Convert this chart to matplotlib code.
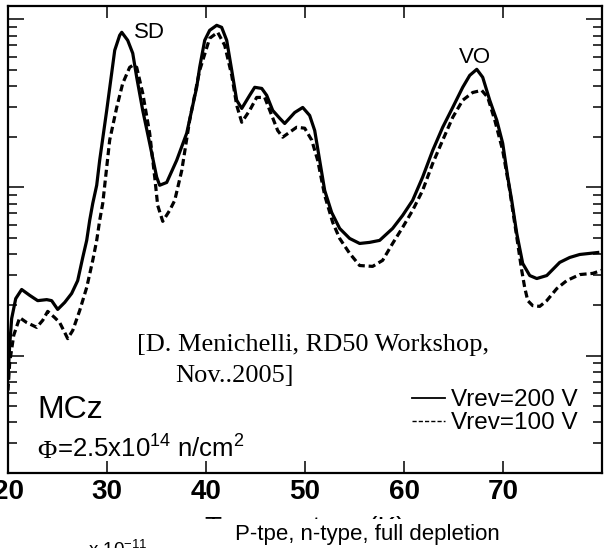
import matplotlib
matplotlib.use("Agg")
import matplotlib.pyplot as plt
from matplotlib.lines import Line2D
from matplotlib.patches import Rectangle

plt.rcParams['font.family'] = ['Liberation Sans', 'DejaVu Sans']
plt.rcParams['mathtext.fontset'] = 'custom'
plt.rcParams['mathtext.rm'] = 'Liberation Sans'
plt.rcParams['mathtext.it'] = 'Liberation Sans:italic'

# Vrev = 200 V (solid)
temp_200 = [20.0, 20.17, 20.37, 20.78, 21.38, 22.19, 23.0, 23.91, 24.41, 25.02,
            25.73, 26.43, 27.04, 27.55, 27.95, 28.25, 28.56, 28.96, 29.26, 29.97,
            30.47, 30.78, 31.28, 31.49, 32.09, 32.6, 33.0, 33.61, 34.31, 35.02,
            35.32, 36.03, 37.04, 38.05, 39.06, 39.36, 39.87, 40.37, 41.08, 41.58,
            42.09, 42.6, 43.1, 43.61, 44.41, 44.92, 45.63, 46.13, 46.74, 47.44,
            47.95, 48.96, 49.77, 50.47, 50.98, 51.48, 51.99, 52.69, 53.5, 54.51,
            55.52, 56.53, 57.54, 58.85, 59.86, 60.87, 61.88, 62.9, 63.91, 64.92,
            65.93, 66.64, 67.35, 67.95, 68.66, 69.37, 69.97, 70.48, 70.88, 71.39,
            71.99, 72.7, 73.41, 74.42, 75.73, 76.74, 77.75, 78.76, 79.57]
curr_200 = [7.30e-13, 1.15e-12, 1.66e-12, 2.18e-12, 2.47e-12, 2.28e-12, 2.12e-12, 2.15e-12, 2.12e-12, 1.88e-12,
            2.07e-12, 2.34e-12, 2.79e-12, 3.83e-12, 4.84e-12, 6.36e-12, 8.03e-12, 1.03e-11, 1.45e-11, 2.87e-11,
            4.77e-11, 6.54e-11, 8.03e-11, 8.37e-11, 7.50e-11, 6.28e-11, 4.52e-11, 2.87e-11, 1.83e-11, 1.15e-11,
            1.03e-11, 1.07e-11, 1.45e-11, 2.10e-11, 3.94e-11, 5.18e-11, 7.50e-11, 8.60e-11, 9.21e-11, 8.96e-11,
            7.50e-11, 4.97e-11, 3.30e-11, 2.95e-11, 3.53e-11, 3.94e-11, 3.88e-11, 3.53e-11, 2.87e-11, 2.58e-11,
            2.40e-11, 2.79e-11, 2.99e-11, 2.68e-11, 2.18e-11, 1.45e-11, 9.59e-12, 7.10e-12, 5.70e-12, 4.97e-12,
            4.64e-12, 4.71e-12, 4.84e-12, 5.70e-12, 6.81e-12, 8.37e-12, 1.15e-11, 1.66e-11, 2.28e-11, 2.99e-11,
            3.94e-11, 4.64e-11, 5.04e-11, 4.52e-11, 3.30e-11, 2.51e-11, 1.83e-11, 1.15e-11, 8.37e-12, 5.32e-12,
            3.53e-12, 2.99e-12, 2.87e-12, 2.99e-12, 3.58e-12, 3.83e-12, 3.99e-12, 4.05e-12, 4.10e-12]

# Vrev = 100 V (dashed)
temp_100 = [20.0, 20.17, 20.58, 21.18, 21.89, 22.5, 22.9, 23.51, 24.01, 24.72,
            25.22, 25.73, 26.03, 26.54, 27.24, 27.95, 28.56, 28.96, 29.26, 29.57,
            30.27, 30.98, 31.59, 32.29, 32.6, 33.0, 33.61, 34.31, 34.82, 35.12,
            35.63, 36.33, 36.84, 37.55, 38.35, 39.36, 40.37, 41.18, 41.89, 42.6,
            43.1, 43.61, 44.41, 45.12, 45.93, 46.64, 47.24, 47.75, 48.45, 49.16,
            49.97, 50.68, 51.28, 51.99, 52.8, 53.5, 54.51, 55.52, 56.83, 57.84,
            58.85, 59.86, 60.87, 61.88, 62.9, 63.91, 64.92, 65.93, 66.94, 67.85,
            68.46, 69.17, 69.97, 70.68, 71.29, 71.89, 72.19, 72.5, 73.0, 73.71,
            74.42, 75.43, 76.44, 77.75, 79.06, 79.97]
curr_100 = [6.19e-13, 9.08e-13, 1.32e-12, 1.68e-12, 1.57e-12, 1.51e-12, 1.47e-12, 1.62e-12, 1.83e-12, 1.68e-12,
            1.57e-12, 1.37e-12, 1.26e-12, 1.41e-12, 1.85e-12, 2.54e-12, 3.68e-12, 4.84e-12, 6.36e-12, 8.03e-12,
            1.91e-11, 2.99e-11, 4.16e-11, 5.18e-11, 5.32e-11, 5.18e-11, 3.63e-11, 2.10e-11, 1.15e-11, 7.82e-12,
            6.28e-12, 7.30e-12, 8.37e-12, 1.26e-11, 2.51e-11, 4.97e-11, 7.71e-11, 8.37e-11, 7.00e-11, 4.64e-11,
            3.08e-11, 2.44e-11, 2.87e-11, 3.43e-11, 3.43e-11, 2.68e-11, 2.18e-11, 1.99e-11, 2.13e-11, 2.28e-11,
            2.25e-11, 1.91e-11, 1.45e-11, 8.96e-12, 6.19e-12, 4.97e-12, 4.05e-12, 3.43e-12, 3.39e-12, 3.68e-12,
            4.64e-12, 5.78e-12, 7.30e-12, 9.59e-12, 1.39e-11, 1.91e-11, 2.61e-11, 3.30e-11, 3.67e-11, 3.78e-11,
            3.43e-11, 2.51e-11, 1.66e-11, 9.59e-12, 5.55e-12, 3.21e-12, 2.54e-12, 2.12e-12, 1.98e-12, 1.96e-12,
            2.12e-12, 2.50e-12, 2.79e-12, 3.03e-12, 3.08e-12, 3.21e-12]

x_ticks = [20, 30, 40, 50, 60, 70]
labels = ["Vrev=200 V", "Vrev=100 V"]

fig = plt.figure(figsize=(6.07, 5.48), dpi=100)
ax = fig.add_axes([8 / 607, 1 - 473 / 548, 594 / 607, 467 / 548])

ax.plot(temp_200, curr_200, color='black', lw=2.3, solid_joinstyle='round')
ax.plot(temp_100, curr_100, color='black', lw=2.3, dashes=(2.2, 1.2))

ax.set_yscale('log')
ax.set_xlim(20, 80)
ax.set_ylim(2e-13, 1.2e-10)
ax.set_xticks(x_ticks)
ax.set_xticklabels([str(t) for t in x_ticks], fontsize=20, fontweight='bold')

ax.tick_params(axis='x', which='both', direction='in', top=True, bottom=True,
               length=8.5, width=1.1, pad=4)
ax.tick_params(axis='y', which='major', direction='in', left=True, right=True,
               length=11.5, width=1.1, labelleft=False)
ax.tick_params(axis='y', which='minor', direction='in', left=True, right=True,
               length=6.5, width=1.1, labelleft=False)
for sp in ax.spines.values():
    sp.set_linewidth(1.6)

ax.set_xlabel("Temperature (K)", fontsize=20, labelpad=8)

# peak names
ax.text(34.3, 8.3e-11, "SD", fontsize=16, ha='center', va='center')
ax.text(67.2, 5.9e-11, "VO", fontsize=16, ha='center', va='center')

# reference note
ax.text(0.217, 0.261, "[D. Menichelli, RD50 Workshop,", fontsize=19,
        family='Liberation Serif', transform=ax.transAxes, va='baseline')
ax.text(0.281, 0.195, "Nov..2005]", fontsize=19,
        family='Liberation Serif', transform=ax.transAxes, va='baseline')

ax.text(0.049, 0.118, "MCz", fontsize=23, transform=ax.transAxes, va='baseline')
ax.text(0.049, 0.032, "\u03a6", fontsize=19, family='Liberation Serif',
        transform=ax.transAxes, va='baseline')
ax.text(0.083, 0.032, r"=2.5x10$^{14}$ n/cm$^{2}$", fontsize=18.5,
        transform=ax.transAxes, va='baseline')

handles = [Line2D([], [], color='black', lw=1.3),
           Line2D([], [], color='black', lw=1.0, dashes=(3, 1.5))]
ax.legend(handles, labels, loc='lower right', bbox_to_anchor=(0.975, 0.062),
          frameon=False, fontsize=17.5, handlelength=1.35, handletextpad=0.25,
          labelspacing=0.05, borderaxespad=0)

# the lower strip belongs to the next panel and hides the axis title
fig.patches.append(Rectangle((0, 0), 1, 29 / 548, transform=fig.transFigure,
                             facecolor='white', edgecolor='none', zorder=10))
fig.text(0.387, 0.0146, "P-tpe, n-type, full depletion", fontsize=16, zorder=11)
fig.text(0.145, -0.0146, r"x 10$^{-11}$", fontsize=13.5, zorder=11)

fig.savefig("out.png", dpi=100)
